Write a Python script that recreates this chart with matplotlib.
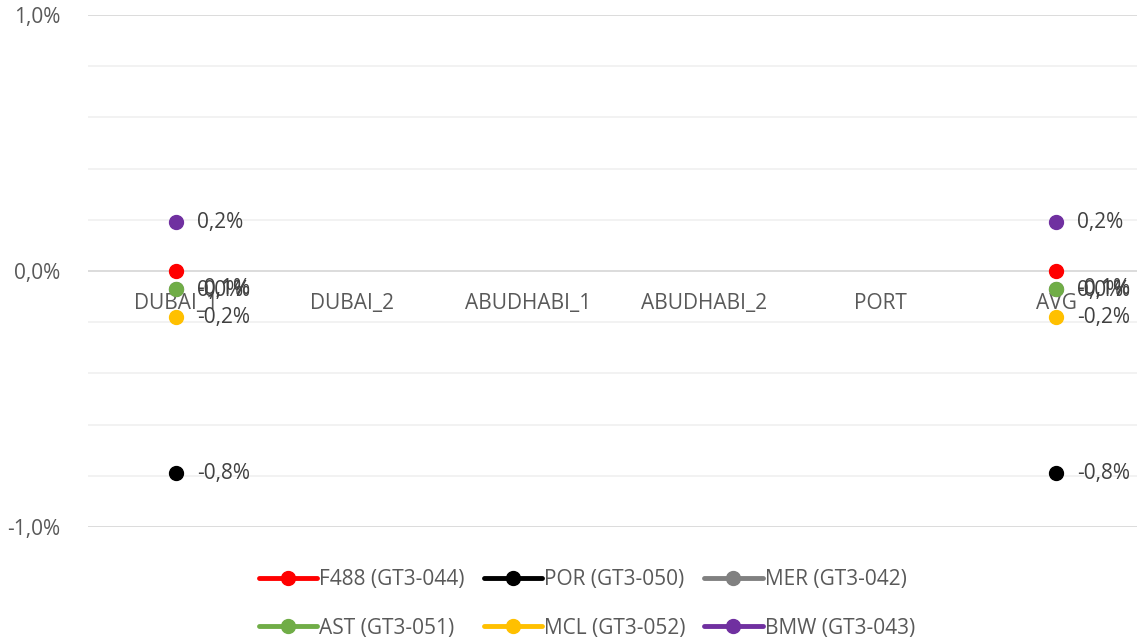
import numpy as np
import matplotlib.pyplot as plt
from matplotlib.ticker import FuncFormatter, MultipleLocator

plt.rcParams['font.family'] = ['Open Sans', 'DejaVu Sans']

categories = ["DUBAI_1", "DUBAI_2", "ABUDHABI_1", "ABUDHABI_2", "PORT", "AVG"]
series_names = ["F488 (GT3-044)", "POR (GT3-050)", "MER (GT3-042)",
                "AST (GT3-051)", "MCL (GT3-052)", "BMW (GT3-043)"]
colors = ["#ff0000", "#000000", "#808080", "#70ad47", "#ffc000", "#7030a0"]
nan = np.nan
values = [
    [0.00, nan, nan, nan, nan, 0.00],
    [-0.79, nan, nan, nan, nan, -0.79],
    [-0.07, nan, nan, nan, nan, -0.07],
    [-0.07, nan, nan, nan, nan, -0.07],
    [-0.18, nan, nan, nan, nan, -0.18],
    [0.19, nan, nan, nan, nan, 0.19],
]
label_text = ["0,0%", "-0,8%", "-0,1%", "-0,1%", "-0,2%", "0,2%"]
# label vertical offsets (in % units) mimicking Excel's label shuffling
label_dy = [-0.075, 0, -0.005, 0.0, 0.0, 0.0]

fig = plt.figure(figsize=(11.37, 6.4), dpi=100)
ax = fig.add_axes([88 / 1137, 1 - 527 / 640, (1144 - 88) / 1137, (527 - 15) / 640])

x = np.arange(len(categories))
for name, col, vals, txt, dy in zip(series_names, colors, values, label_text, label_dy):
    ax.plot(x, vals, color=col, lw=3.5, marker="o", ms=10, label=name,
            solid_capstyle="round", zorder=3)
    for xi, v in zip(x, vals):
        if not np.isnan(v):
            ax.text(xi + 0.12, v + dy, txt, fontsize=15, color="#404040",
                    va="center", ha="left", zorder=4)

ax.set_xlim(-0.5, 5.5)
ax.set_ylim(-1.0, 1.0)
ax.yaxis.set_major_locator(MultipleLocator(1.0))
ax.yaxis.set_minor_locator(MultipleLocator(0.2))
ax.yaxis.set_major_formatter(FuncFormatter(lambda v, p: f"{v:.1f}%".replace(".", ",")))
ax.grid(axis="y", which="major", color="#d9d9d9", lw=1.3)
ax.grid(axis="y", which="minor", color="#efefef", lw=1.1)
ax.set_axisbelow(True)
for s in ax.spines.values():
    s.set_visible(False)
ax.tick_params(axis="y", which="both", length=0, labelsize=15, labelcolor="#595959", pad=20)
ax.set_xticks([])
for xi, c in zip(x, categories):
    ax.text(xi, -0.085, c, ha="center", va="top", fontsize=15, color="#595959", zorder=2)

handles, labels = ax.get_legend_handles_labels()
order = [0, 3, 1, 4, 2, 5]
leg = fig.legend([handles[i] for i in order], [labels[i] for i in order],
                 loc="center", bbox_to_anchor=(587 / 1137, 1 - 604 / 640),
                 ncol=3, frameon=False, fontsize=15, handlelength=2.8, handletextpad=0.1,
                 columnspacing=0.9, labelspacing=1.3, labelcolor="#595959")

fig.savefig("out.png", dpi=100)
